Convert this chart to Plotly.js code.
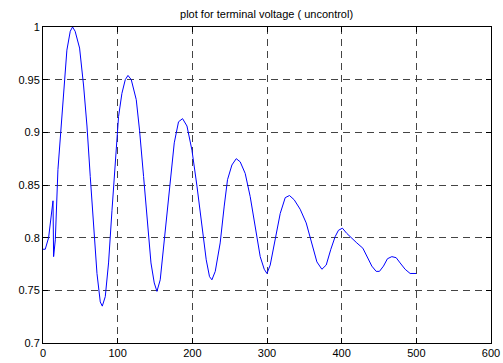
<!DOCTYPE html>
<html>
<head>
<meta charset="utf-8">
<script src="https://cdn.plot.ly/plotly-3.0.1.min.js"></script>
<style>html,body{margin:0;padding:0;background:#fff;}#chart{width:503px;height:363px;}</style>
</head>
<body>
<div id="chart"></div>
<script>
const timeSteps = [0,3,7.5,10.7,13.4,14.2,16.5,20,24.5,27.6,32,36.5,39.6,43,49,54.4,58.9,63.3,67.7,72.3,76.7,79.4,83.4,87.8,92.4,96.8,101.2,105.7,110.2,113.8,118.2,124.9,129.3,134.7,139.2,144.6,149,152.6,157,161.4,166,170.4,175.8,181.5,186.9,192.8,199.5,206.2,212.9,218.6,223,226.2,230.7,237.3,242.7,247.1,253,258.8,264.1,270.8,277.5,284.2,290.9,296.3,299.9,304.3,311,317.7,324.4,330.1,336.4,344.4,352.5,360.1,366.8,373.5,379.3,385.5,391.3,395.7,401,406.9,413.6,420.3,428.4,434.5,440.4,446.2,450.6,456,461.3,467.2,473,478.3,485,491.7,499.7];
const terminalVoltage = [0.789,0.789,0.800,0.820,0.835,0.782,0.798,0.8645,0.909,0.944,0.978,0.996,1.000,0.996,0.980,0.944,0.906,0.858,0.811,0.766,0.739,0.735,0.744,0.776,0.826,0.874,0.915,0.937,0.950,0.954,0.950,0.931,0.902,0.858,0.817,0.776,0.757,0.749,0.760,0.789,0.820,0.852,0.890,0.910,0.913,0.906,0.883,0.849,0.811,0.779,0.763,0.760,0.768,0.795,0.830,0.855,0.869,0.875,0.872,0.861,0.839,0.811,0.782,0.770,0.766,0.774,0.798,0.823,0.838,0.840,0.836,0.827,0.814,0.795,0.777,0.770,0.774,0.789,0.801,0.807,0.809,0.804,0.799,0.795,0.790,0.781,0.773,0.768,0.768,0.773,0.780,0.782,0.781,0.776,0.770,0.766,0.766];
const xTicks = [0,100,200,300,400,500,600];
const yTicks = [0.7,0.75,0.8,0.85,0.9,0.95,1];
const yTickLabels = ['0.7','0.75','0.8','0.85','0.9','0.95','1'];
const chartTitle = 'plot for terminal voltage ( uncontrol)';

const axisCommon = {
  showline: true, linecolor: '#000', linewidth: 1, mirror: 'ticks',
  ticks: 'inside', ticklen: 5, tickcolor: '#000', tickwidth: 1,
  showgrid: true, gridcolor: '#444', gridwidth: 1, griddash: '7px,5px',
  zeroline: false, tickfont: {family: 'Liberation Sans, Arial, sans-serif', size: 11, color: '#000'}
};

Plotly.newPlot('chart', [{
  x: timeSteps, y: terminalVoltage, type: 'scatter', mode: 'lines',
  line: {color: '#0000ff', width: 1}, hoverinfo: 'skip'
}], {
  width: 503, height: 363,
  margin: {l: 43, r: 12, t: 27, b: 20},
  paper_bgcolor: '#fff', plot_bgcolor: '#fff',
  showlegend: false,
  title: {text: chartTitle, font: {family: 'Liberation Sans, Arial, sans-serif', size: 11, color: '#000'}, x: 0.53, xanchor: 'center', y: 0.962, yanchor: 'middle'},
  xaxis: Object.assign({}, axisCommon, {range: [0, 600], tickvals: xTicks, ticktext: xTicks.map(String)}),
  yaxis: Object.assign({}, axisCommon, {range: [0.7, 1], tickvals: yTicks, ticktext: yTickLabels})
}, {staticPlot: true, displayModeBar: false});
</script>
</body>
</html>
